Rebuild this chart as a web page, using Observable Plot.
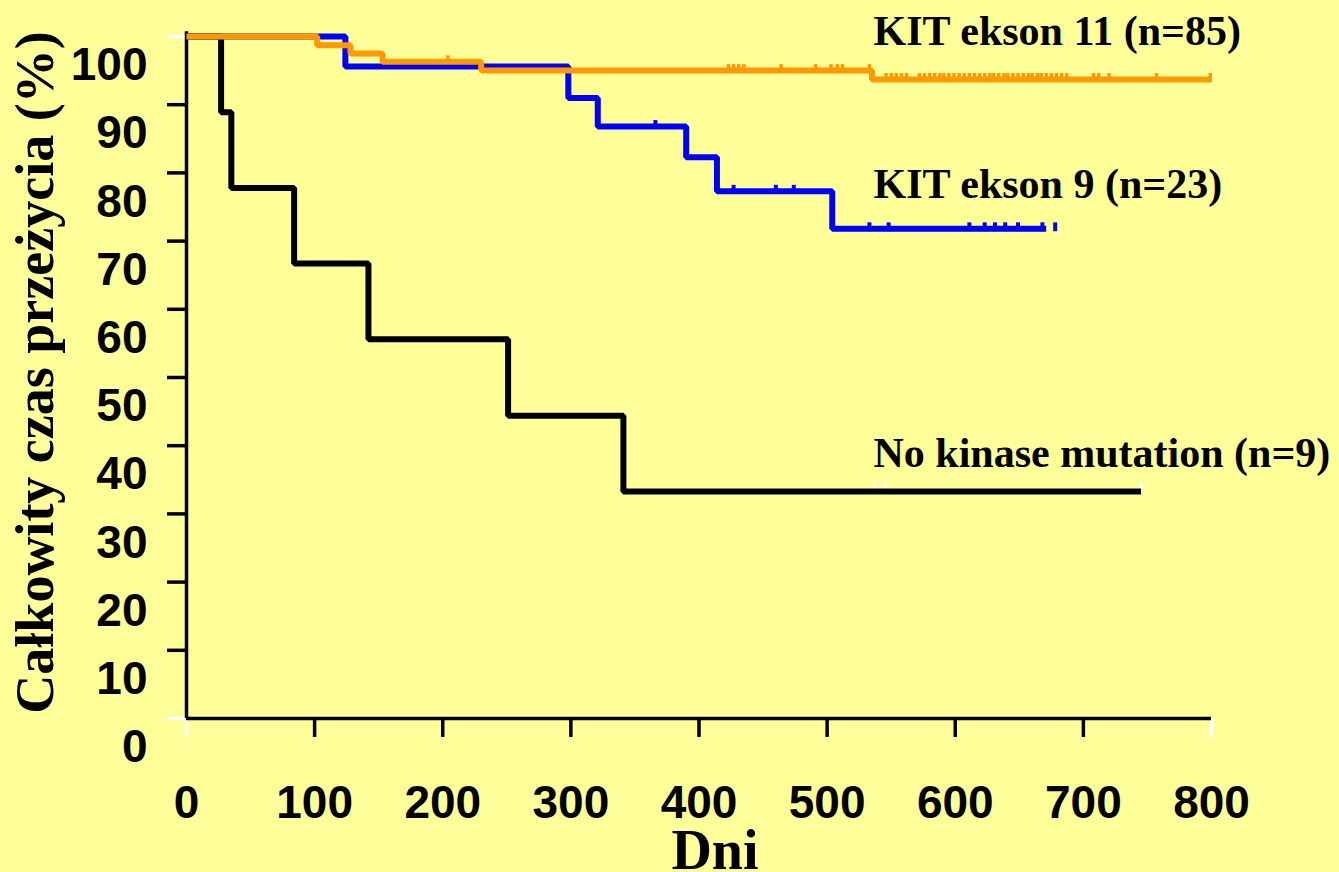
<!DOCTYPE html>
<html>
<head>
<meta charset="utf-8">
<script src="https://cdn.jsdelivr.net/npm/d3@7"></script>
<script src="https://cdn.jsdelivr.net/npm/@observablehq/plot@0.6"></script>
<style>
  html, body { margin: 0; padding: 0; background: #FFFF99; }
  #chart { width: 1339px; height: 872px; }
</style>
</head>
<body>
<div id="chart"></div>
<script>
// ---------- data ----------
const groups = ["No kinase mutation", "KIT ekson 9", "KIT ekson 11"];
const groupColors = ["#000000", "#0000FF", "#FF9900"];
const seriesLabels = ["KIT ekson 11 (n=85)", "KIT ekson 9 (n=23)", "No kinase mutation (n=9)"];

// No kinase mutation (n=9)
const noMutDays = [0, 27, 35, 84, 142, 251, 341];
const noMutSurv = [100, 88.9, 77.8, 66.7, 55.6, 44.4, 33.3];
const noMutEnd = 745;
const noMutCensor = [537, 545, 745];

// KIT ekson 9 (n=23)
const kit9Days = [0, 124, 298, 321, 390, 414, 504];
const kit9Surv = [100, 95.6, 91.0, 86.8, 82.3, 77.3, 71.8];
const kit9End = 671;
const kit9Censor = [366, 427, 460, 474, 533, 548, 611, 623, 631, 639, 649, 668, 678];

// KIT ekson 11 (n=85)
const kit11Days = [0, 102, 128, 153, 230, 535];
const kit11Surv = [100, 98.7, 97.5, 96.3, 95.0, 93.7];
const kit11End = 800;
const kit11Censor = [204, 423, 427, 431, 435, 464, 491, 503, 508, 512, 533,
  546, 550, 554, 558, 562, 572, 576, 580, 584, 588, 591, 595, 599, 603, 607,
  611, 615, 619, 623, 627, 630, 634, 638, 641, 645, 649, 653, 657, 660, 664,
  667, 671, 675, 679, 683, 687, 708, 712, 720, 757, 799];

const xTicks = [0, 100, 200, 300, 400, 500, 600, 700, 800];
const yTicks = [0, 10, 20, 30, 40, 50, 60, 70, 80, 90, 100];
const xTitle = "Dni";
const yTitle = "Całkowity czas przeżycia (%)";

// ---------- helpers ----------
function stepRows(group, days, surv, end) {
  const rows = days.map((t, i) => ({group, t, s: surv[i]}));
  rows.push({group, t: end, s: surv[surv.length - 1]});
  return rows;
}
function survAt(days, surv, t) {
  let s = surv[0];
  for (let i = 0; i < days.length; i++) if (days[i] <= t) s = surv[i];
  return s;
}
function censorRows(group, days, surv, censor) {
  return censor.map(t => ({group, t, s: survAt(days, surv, t)}));
}

const noMutLine = stepRows(groups[0], noMutDays, noMutSurv, noMutEnd);
const kit9Line = stepRows(groups[1], kit9Days, kit9Surv, kit9End);
const kit11Line = stepRows(groups[2], kit11Days, kit11Surv, kit11End);

const noMutCens = censorRows(groups[0], noMutDays, noMutSurv, noMutCensor);
const kit9Cens = censorRows(groups[1], kit9Days, kit9Surv, kit9Censor);
const kit11Cens = censorRows(groups[2], kit11Days, kit11Surv, kit11Censor);

const sans = "'Liberation Sans', Arial, sans-serif";
const serif = "'Liberation Serif', 'Times New Roman', serif";
const lineOpts = {x: "t", y: "s", curve: "step-after", strokeWidth: 6,
  strokeLinejoin: "miter", strokeLinecap: "butt"};

const chart = Plot.plot({
  width: 1339,
  height: 872,
  marginLeft: 186,
  marginRight: 128,
  marginTop: 36,
  marginBottom: 154,
  style: {background: "#FFFF99", overflow: "visible"},
  x: {domain: [0, 800], label: null},
  y: {domain: [0, 100], label: null},
  marks: [
    // axis ticks (black inner, white at the ends)
    Plot.axisY({ticks: yTicks.slice(1, -1), tickSize: 19, strokeWidth: 3.5, stroke: "black", tickFormat: () => "", label: null}),
    Plot.axisY({ticks: [yTicks[0], yTicks[yTicks.length - 1]], tickSize: 19, strokeWidth: 3.5, stroke: "white", tickFormat: () => "", label: null}),
    Plot.axisX({ticks: xTicks.slice(1, -1), tickSize: 19, strokeWidth: 3.5, stroke: "black", tickFormat: () => "", label: null}),
    Plot.axisX({ticks: [xTicks[0], xTicks[xTicks.length - 1]], tickSize: 19, strokeWidth: 3.5, stroke: "white", tickFormat: () => "", label: null}),
    // tick labels
    Plot.axisY({ticks: yTicks, tickSize: 0, tickPadding: 39, dy: 29, fontSize: 46, fontWeight: "bold",
      fontFamily: sans, fill: "black", label: null}),
    Plot.axisX({ticks: xTicks, tickSize: 0, tickPadding: 67, fontSize: 46, fontWeight: "bold",
      fontFamily: sans, fill: "black", label: null}),
    // axis lines
    Plot.ruleX([0], {y1: 0, y2: 100.7, stroke: "black", strokeWidth: 3.5}),
    Plot.ruleY([0], {x1: 0, x2: 800, stroke: "black", strokeWidth: 3.5}),
    // censor marks of the black curve (white)
    Plot.link(noMutCens, {x1: "t", x2: "t", y1: "s", y2: d => d.s + 1.3, stroke: "white", strokeWidth: 3}),
    // survival curves
    Plot.line(noMutLine, {...lineOpts, stroke: groupColors[0]}),
    Plot.line(kit9Line, {...lineOpts, stroke: groupColors[1]}),
    Plot.link(kit9Cens, {x1: "t", x2: "t", y1: d => d.s - 0.35, y2: d => d.s + 0.95, stroke: groupColors[1], strokeWidth: 4}),
    Plot.line(kit11Line, {...lineOpts, stroke: groupColors[2]}),
    Plot.link(kit11Cens, {x1: "t", x2: "t", y1: d => d.s - 0.35, y2: d => d.s + 0.95, stroke: groupColors[2], strokeWidth: 3.5}),
    // series labels
    Plot.text([seriesLabels[0]], {frameAnchor: "top-left", dx: 687, dy: 8, lineAnchor: "bottom", textAnchor: "start",
      fontSize: 42, fontWeight: "bold", fontFamily: serif, fill: "black"}),
    Plot.text([seriesLabels[1]], {frameAnchor: "top-left", dx: 687, dy: 161, lineAnchor: "bottom", textAnchor: "start",
      fontSize: 42, fontWeight: "bold", fontFamily: serif, fill: "black"}),
    Plot.text([seriesLabels[2]], {frameAnchor: "top-left", dx: 687, dy: 430, lineAnchor: "bottom", textAnchor: "start",
      fontSize: 42, fontWeight: "bold", fontFamily: serif, fill: "black"}),
    // axis titles
    Plot.text([xTitle], {frameAnchor: "bottom", dx: 16, dy: 150, lineAnchor: "bottom", textAnchor: "middle",
      fontSize: 56, fontWeight: "bold", fontFamily: serif, fill: "black"}),
    Plot.text([yTitle], {frameAnchor: "left", dx: -134, dy: -5, rotate: -90, lineAnchor: "bottom", textAnchor: "middle",
      fontSize: 54, fontWeight: "bold", fontFamily: serif, fill: "black"})
  ]
});
document.getElementById("chart").appendChild(chart);
</script>
</body>
</html>
